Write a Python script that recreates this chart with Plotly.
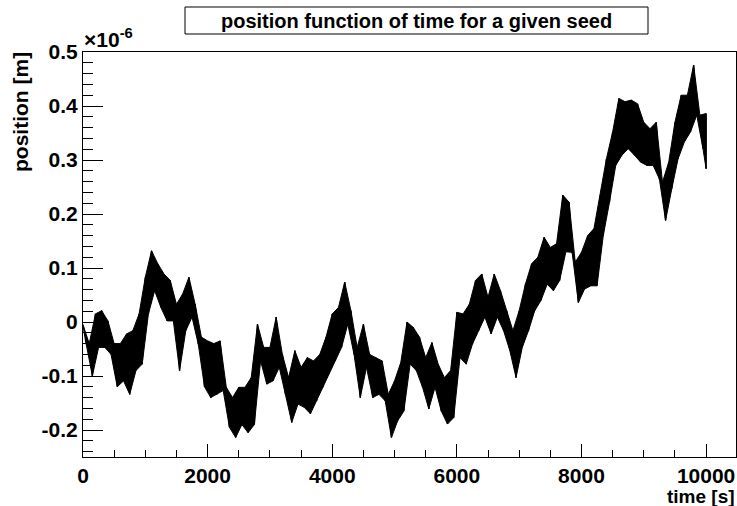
import plotly.graph_objects as go

# sampling times [s] of the read-off envelope
time_s = [0, 100, 200, 300, 400, 500, 600, 700, 800, 900,
          1000, 1100, 1200, 1300, 1400, 1500, 1600, 1700, 1800, 1900,
          2000, 2100, 2200, 2300, 2400, 2500, 2600, 2700, 2800, 2900,
          3000, 3100, 3200, 3300, 3400, 3500, 3600, 3700, 3800, 3900,
          4000, 4100, 4200, 4300, 4400, 4500, 4600, 4700, 4800, 4900,
          5000, 5100, 5200, 5300, 5400, 5500, 5600, 5700, 5800, 5900,
          6000, 6100, 6200, 6300, 6400, 6500, 6600, 6700, 6800, 6900,
          7000, 7100, 7200, 7300, 7400, 7500, 7600, 7700, 7800, 7900,
          8000, 8100, 8200, 8300, 8400, 8500, 8600, 8700, 8800, 8900,
          9000, 9100, 9200, 9300, 9400, 9500, 9600, 9700, 9800, 9900,
          10000]

# upper excursions of the position [x1e-6 m]
pos_high = [-0.005, -0.040, 0.015, 0.021, 0.002, -0.040, -0.040, -0.022, -0.016, 0.015,
            0.083, 0.132, 0.108, 0.089, 0.077, 0.033, 0.052, 0.083, 0.033, -0.028,
            -0.035, -0.040, -0.035, -0.121, -0.140, -0.121, -0.121, -0.103, -0.004, -0.047,
            -0.047, 0.009, -0.060, -0.103, -0.053, -0.084, -0.066, -0.072, -0.060, -0.028,
            0.015, 0.027, 0.074, 0.021, -0.047, -0.004, -0.060, -0.066, -0.072, -0.134,
            -0.109, -0.075, 0.000, -0.010, -0.028, -0.066, -0.038, -0.078, -0.103, -0.090,
            0.018, 0.015, 0.033, 0.077, 0.089, 0.046, 0.089, 0.058, 0.021, -0.016,
            0.021, 0.070, 0.108, 0.120, 0.157, 0.138, 0.145, 0.235, 0.222, 0.111,
            0.129, 0.160, 0.173, 0.234, 0.302, 0.352, 0.414, 0.408, 0.411, 0.404,
            0.370, 0.358, 0.370, 0.259, 0.296, 0.370, 0.420, 0.420, 0.476, 0.383,
            0.386]

# lower excursions of the position [x1e-6 m]
pos_low = [-0.040, -0.100, -0.047, -0.047, -0.060, -0.120, -0.109, -0.134, -0.090, -0.078,
           0.015, 0.058, 0.027, 0.002, 0.002, -0.090, -0.016, 0.009, -0.041, -0.120,
           -0.140, -0.134, -0.127, -0.195, -0.214, -0.190, -0.205, -0.190, -0.072, -0.115,
           -0.109, -0.084, -0.134, -0.186, -0.152, -0.158, -0.170, -0.146, -0.121, -0.096,
           -0.072, -0.047, -0.004, -0.060, -0.140, -0.084, -0.140, -0.134, -0.146, -0.214,
           -0.183, -0.165, -0.078, -0.090, -0.121, -0.161, -0.121, -0.165, -0.189, -0.177,
           -0.066, -0.078, -0.041, -0.016, 0.009, -0.022, 0.009, -0.016, -0.053, -0.103,
           -0.047, -0.016, 0.021, 0.040, 0.070, 0.058, 0.077, 0.130, 0.129, 0.036,
           0.061, 0.067, 0.067, 0.160, 0.222, 0.290, 0.309, 0.321, 0.309, 0.296,
           0.290, 0.290, 0.265, 0.188, 0.247, 0.302, 0.333, 0.352, 0.383, 0.321,
           0.284]

y_ticks = [-0.2, -0.1, 0, 0.1, 0.2, 0.3, 0.4, 0.5]
y_tick_text = ["-0.2", "-0.1", "0", "0.1", "0.2", "0.3", "0.4", "0.5"]
x_ticks = [0, 2000, 4000, 6000, 8000, 10000]
x_tick_text = ["0", "2000", "4000", "6000", "8000", "10000"]

# zig-zag path: high value at t, low value half a step later
low_time = [t + 50 if i < len(time_s) - 1 else t for i, t in enumerate(time_s)]
xs, ys = [], []
for i in range(len(time_s)):
    xs += [time_s[i], low_time[i]]
    ys += [pos_high[i], pos_low[i]]

# solid band between the two envelopes
band_x = list(time_s) + low_time[::-1]
band_y = list(pos_high) + pos_low[::-1]

W, H = 737, 506
L, R, T, B = 83, 1, 52, 49
pw, ph = W - L - R, H - T - B

def px(xp):
    return (xp - L) / pw

def py(yp):
    return (H - B - yp) / ph

FONT = "Liberation Sans, Arial, Helvetica, sans-serif"

fig = go.Figure()
fig.add_trace(go.Scatter(x=band_x, y=band_y, mode="lines", fill="toself",
                         fillcolor="black", line=dict(color="black", width=1),
                         hoverinfo="skip", showlegend=False))
fig.add_trace(go.Scatter(x=xs, y=ys, mode="lines",
                         line=dict(color="black", width=1.4),
                         hoverinfo="skip", showlegend=False))

axis_common = dict(showline=True, linecolor="black", linewidth=1, mirror=True,
                   showgrid=False, zeroline=False, ticks="inside",
                   tickcolor="black", tickwidth=1,
                   tickfont=dict(family=FONT, size=21, color="black", weight="bold"))

fig.update_xaxes(range=[0, 10480], tickvals=x_ticks, ticktext=x_tick_text,
                 ticklen=13,
                 minor=dict(dtick=500, tick0=0, ticks="inside", ticklen=7,
                            tickcolor="black", tickwidth=1),
                 **axis_common)
fig.update_yaxes(range=[-0.25, 0.5], tickvals=y_ticks, ticktext=y_tick_text,
                 ticklen=20,
                 minor=dict(dtick=0.02, tick0=0, ticks="inside", ticklen=10,
                            tickcolor="black", tickwidth=1),
                 **axis_common)

# title box
fig.add_shape(type="rect", xref="paper", yref="paper",
              x0=px(185), x1=px(648), y0=py(34), y1=py(7),
              line=dict(color="black", width=1), fillcolor="white")
fig.add_annotation(xref="paper", yref="paper", x=px(416), y=py(20.5),
                   text="position function of time for a given seed",
                   showarrow=False, xanchor="center", yanchor="middle",
                   font=dict(family=FONT, size=20, color="black", weight="bold"))
# exponent label
fig.add_annotation(xref="paper", yref="paper", x=px(82), y=py(53),
                   text="×10<sup>-6</sup>", showarrow=False,
                   xanchor="left", yanchor="bottom",
                   font=dict(family=FONT, size=21, color="black", weight="bold"))
# axis titles
fig.add_annotation(xref="paper", yref="paper", x=px(20), y=py(50),
                   text="position [m]", textangle=-90, showarrow=False,
                   xanchor="center", yanchor="top",
                   font=dict(family=FONT, size=21, color="black", weight="bold"))
fig.add_annotation(xref="paper", yref="paper", x=px(737), y=py(496),
                   text="time [s]", showarrow=False,
                   xanchor="right", yanchor="middle",
                   font=dict(family=FONT, size=19, color="black", weight="bold"))

fig.update_layout(width=W, height=H, margin=dict(l=L, r=R, t=T, b=B),
                  paper_bgcolor="white", plot_bgcolor="white",
                  showlegend=False)

fig.write_html("out.html")
